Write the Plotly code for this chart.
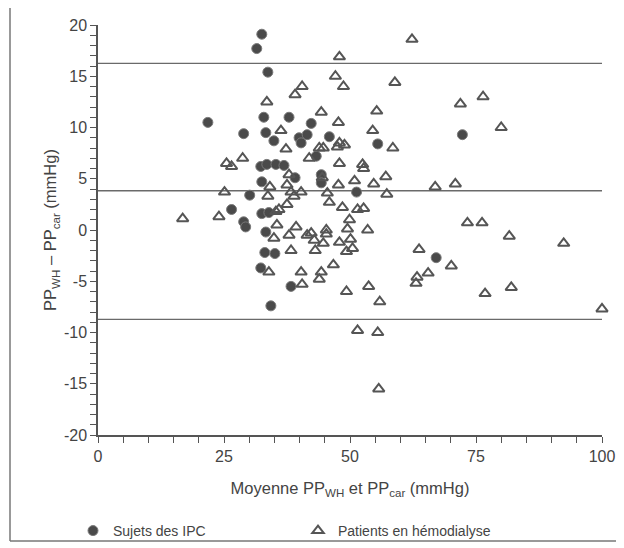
import plotly.graph_objects as go

# Sujets des IPC (filled circles)
ipc_mean = [32.5, 31.5, 33.7, 21.8, 28.9, 32.9, 33.3, 37.9, 42.3, 34.9, 39.9, 40.3, 41.5, 45.9,
            55.5, 32.3, 33.5, 35.3, 36.9, 43.3, 32.5, 39.1, 44.3, 44.3, 30.1, 51.3, 26.5, 28.9,
            29.3, 32.5, 33.9, 33.3, 33.1, 35.1, 32.3, 38.3, 34.3, 67.1, 72.3]
ipc_diff = [19.1, 17.7, 15.4, 10.5, 9.4, 11.0, 9.5, 11.0, 10.4, 8.7, 9.0, 8.5, 9.3, 9.1,
            8.4, 6.2, 6.4, 6.4, 6.3, 7.2, 4.7, 5.1, 5.4, 4.6, 3.4, 3.7, 2.0, 0.8,
            0.3, 1.6, 1.7, -0.2, -2.2, -2.3, -3.7, -5.5, -7.4, -2.7, 9.3]

# Patients en hémodialyse (open triangles)
hd_mean = [62.3, 47.9, 47.1, 58.9, 40.5, 39.1, 48.7, 33.5, 44.3, 55.3, 71.9, 76.4, 80.0, 47.7,
           36.3, 54.5, 37.3, 58.5, 43.9, 44.7, 47.9, 48.9, 47.5, 41.9, 47.9, 52.5, 52.7, 25.5,
           26.5, 28.7, 57.1, 50.9, 54.7, 47.7, 44.5, 66.9, 70.9, 57.3, 45.9, 48.5, 51.5, 52.7,
           49.9, 49.5, 53.5, 50.1, 47.9, 50.5, 49.3, 46.7, 63.7, 65.5, 70.1, 63.3, 63.1, 49.3,
           53.7, 55.9, 51.5, 55.5, 55.7, 73.3, 76.2, 81.6, 92.4, 76.8, 82.0, 100.0, 25.1, 24.0,
           16.8, 33.7, 37.5, 38.3, 38.9, 40.3, 37.5, 35.9, 35.3, 35.5, 37.9, 39.3, 41.5, 34.9,
           38.3, 33.9, 40.3, 40.5, 42.3, 42.9, 45.3, 44.7, 43.1, 44.3, 43.9, 45.5, 37.9, 34.1,
           45.3]
hd_diff = [18.6, 16.9, 15.0, 14.4, 14.0, 13.2, 14.0, 12.5, 11.5, 11.6, 12.3, 13.0, 10.0, 10.5,
           9.7, 9.7, 7.9, 8.0, 8.0, 8.0, 8.5, 8.3, 8.1, 7.0, 6.5, 6.4, 6.0, 6.5,
           6.2, 7.0, 5.2, 4.8, 4.5, 4.4, 5.1, 4.2, 4.5, 3.5, 2.7, 2.2, 2.0, 2.1,
           1.0, 0.1, 0.0, -0.9, -1.2, -1.8, -2.1, -3.4, -1.9, -4.2, -3.5, -4.6, -5.2, -6.0,
           -5.5, -7.0, -9.8, -10.0, -15.5, 0.7, 0.7, -0.6, -1.3, -6.2, -5.6, -7.7, 3.7, 1.3,
           1.1, 3.3, 4.4, 3.7, 3.3, 3.7, 2.5, 2.0, 1.8, 0.5, -0.5, 0.3, -0.5, -0.8,
           -2.0, -4.1, -4.1, -5.3, -0.3, -1.0, 0.0, -1.3, -2.0, -4.1, -4.8, 3.6, 5.4, 4.2,
           -0.4]

# Limits of agreement (upper, mean, lower)
limits = [16.26, 3.83, -8.71]

x_ticks = [0, 25, 50, 75, 100]
y_ticks = [-20, -15, -10, -5, 0, 5, 10, 15, 20]
y_tick_labels = ["-20", "-15", "-10", "-5", "0", "5", "10", "15", "20"]

FONT = "Liberation Sans, Arial, sans-serif"
AX = "#555555"
TXT = "#444444"

fig = go.Figure()

for yv in limits:
    fig.add_shape(type="line", xref="x", yref="y", x0=0, x1=100, y0=yv, y1=yv,
                  line=dict(color="#6a6a6a", width=1.3), layer="below")

fig.add_trace(go.Scatter(
    x=ipc_mean, y=ipc_diff, mode="markers", name="Sujets des IPC",
    marker=dict(symbol="circle", size=10, color="#4a4a4a",
                line=dict(color="#7a7a7a", width=1)),
    cliponaxis=False,
))
fig.add_trace(go.Scatter(
    x=hd_mean, y=hd_diff, mode="markers", name="Patients en hémodialyse",
    marker=dict(symbol="triangle-up-open", size=10, color="#555555",
                line=dict(color="#555555", width=2)),
    cliponaxis=False,
))

# page offset compensation (browser body margin ~8px)
OFF = 8
L, R, T, B = 98 - OFF, 30, 25 - OFF, 121
W, H = 624, 548
pw, ph = W - L - R, H - T - B

def px_to_paper_x(px):
    return (px - OFF - L) / pw

def px_to_paper_y(py):
    return ((H - B) - (py - OFF)) / ph

fx0, fx1 = px_to_paper_x(10), px_to_paper_x(619)
fy0, fy1 = px_to_paper_y(541), px_to_paper_y(5)
frame = dict(color="#777777", width=1.5)
for (a, b, c, d) in [(fx0, fy1, fx1, fy1), (fx0, fy0, fx1, fy0),
                     (fx0, fy0, fx0, fy1), (fx1, fy0, fx1, fy1)]:
    fig.add_shape(type="line", xref="paper", yref="paper", x0=a, y0=b, x1=c, y1=d,
                  line=frame, layer="above")

fig.update_layout(
    width=W, height=H,
    margin=dict(l=L, r=R, t=T, b=B, autoexpand=False),
    paper_bgcolor="white", plot_bgcolor="white",
    font=dict(family=FONT, size=14, color=TXT),
    showlegend=True,
    legend=dict(orientation="h", x=px_to_paper_x(73), xanchor="left",
                y=px_to_paper_y(531), yanchor="middle",
                bgcolor="rgba(0,0,0,0)",
                entrywidth=180, entrywidthmode="pixels",
                font=dict(size=14, color=TXT), itemsizing="trace"),
)
fig.update_xaxes(
    range=[0, 100], tickvals=x_ticks, ticks="outside", ticklen=6, tickwidth=1.3,
    tickcolor=AX, showline=True, linecolor=AX, linewidth=1.5, showgrid=False,
    zeroline=False, automargin=False, tickfont=dict(size=16, color=TXT),
    minor=dict(dtick=5, ticks="outside", ticklen=6, tickwidth=1.3, tickcolor=AX, showgrid=False),
    title=dict(text="Moyenne PP<sub>WH</sub> et PP<sub>car</sub> (mmHg)", standoff=18,
               font=dict(size=16.5, color=TXT)),
)
fig.update_yaxes(
    range=[-20, 20], tickvals=y_ticks, ticktext=y_tick_labels, ticks="outside", ticklen=6,
    tickwidth=1.3, tickcolor=AX, showline=True, linecolor=AX, linewidth=1.5, showgrid=False,
    zeroline=False, automargin=False, tickfont=dict(size=16, color=TXT),
    minor=dict(dtick=1, ticks="outside", ticklen=6, tickwidth=1.3, tickcolor=AX, showgrid=False),
    title=dict(text="PP<sub>WH</sub> – PP<sub>car</sub> (mmHg)", standoff=3,
               font=dict(size=16.5, color=TXT)),
)

fig.write_html("out.html")
